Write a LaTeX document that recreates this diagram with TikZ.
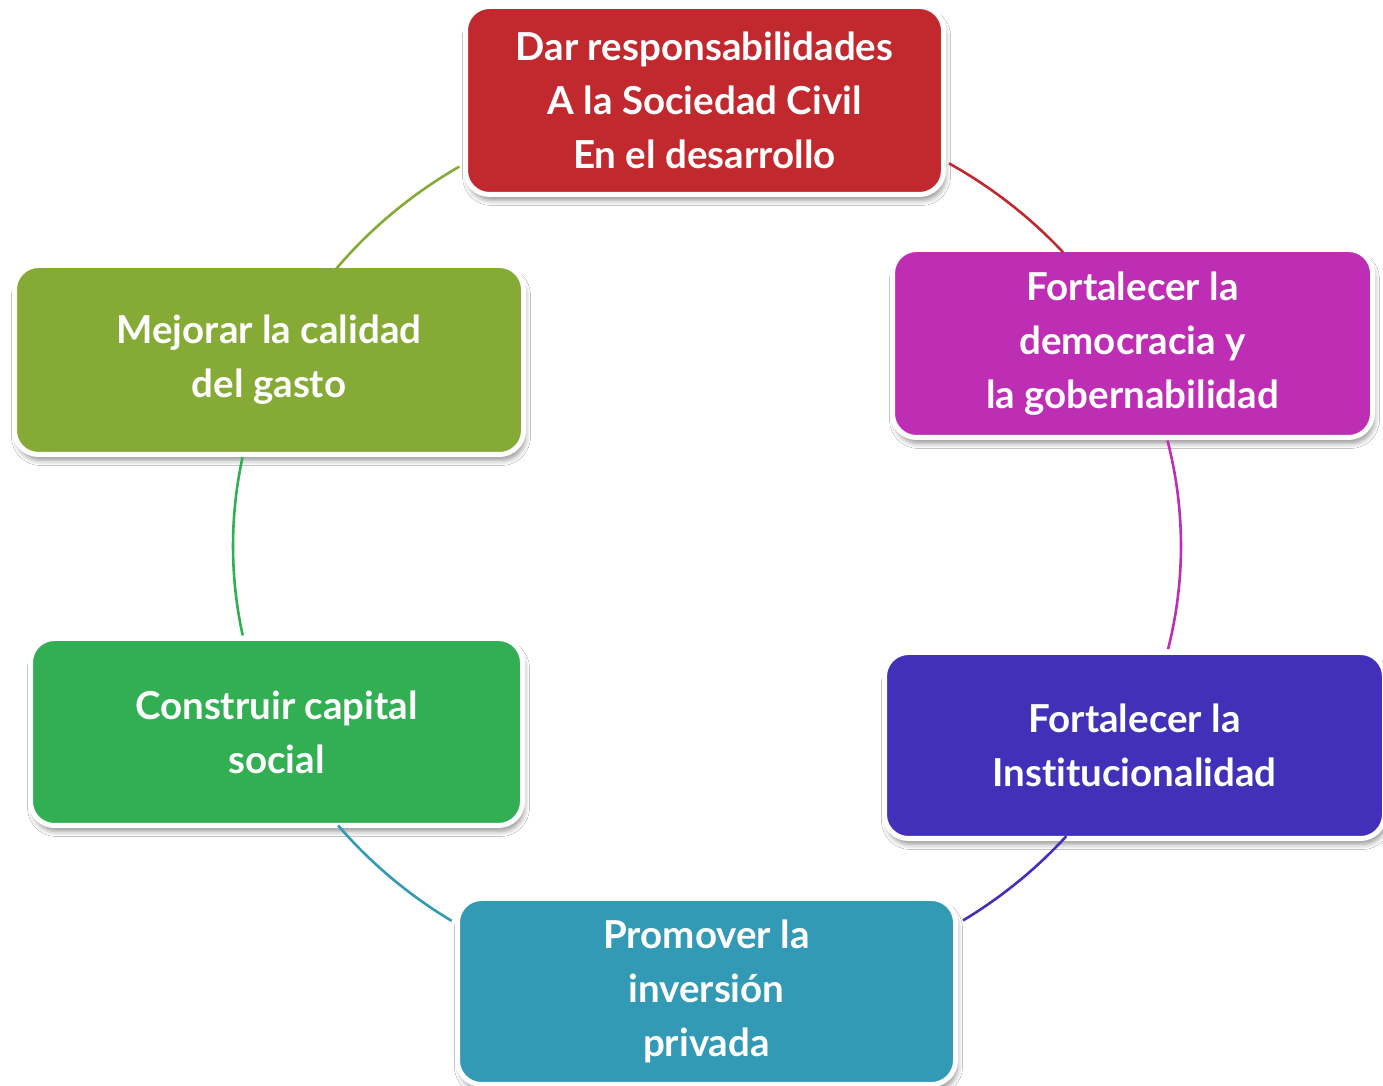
\documentclass[tikz,border=0pt]{standalone}
\usepackage{fontspec}
\setmainfont{Lato}[Ligatures={NoCommon}]
\usetikzlibrary{shadows.blur}
\definecolor{cRed}{HTML}{C1292E}
\definecolor{cMag}{HTML}{BE2EB4}
\definecolor{cInd}{HTML}{4230B8}
\definecolor{cTeal}{HTML}{329AB4}
\definecolor{cGreen}{HTML}{32AF52}
\definecolor{cOlive}{HTML}{86AA36}
\begin{document}
\begin{tikzpicture}[x=1pt,y=1pt,
  box/.style={rectangle, rounded corners=24pt, draw=white, line width=5pt,
    inner sep=0pt, align=center, text=white,
    font=\fontsize{38.5}{54}\selectfont\bfseries,
    blur shadow={shadow xshift=2pt, shadow yshift=-6pt, shadow blur radius=5pt, shadow opacity=40}},
  link/.style={line width=2.6pt},
  ex/.style 2 args={minimum width=#1pt, minimum height=#2pt}]
\useasboundingbox (0,0) rectangle (1383,1086);
\fill[white] (0,0) rectangle (1383,1086);

\node[box, fill=cRed, ex={478}{188}] (red) at (704.5,985.5)
  {Dar responsabilidades\\A la Sociedad Civil\\En el desarrollo};
\node[box, fill=cMag, ex={480}{188}] (mag) at (1132.5,742.5)
  {Fortalecer la\\democracia y\\la gobernabilidad};
\node[box, fill=cInd, ex={500}{186}] (ind) at (1134.5,340.5)
  {Fortalecer la\\Institucionalidad};
\node[box, fill=cTeal, ex={498}{186}] (teal) at (706.5,94.5)
  {Promover la\\inversión\\privada};
\node[box, fill=cGreen, ex={492}{187}] (green) at (276.5,354)
  {Construir capital\\social};
\node[box, fill=cOlive, ex={509}{189}] (olive) at (269,726)
  {Mejorar la calidad\\del gasto};

\coordinate (ctr) at (707,540);
\draw[link, cOlive] (ctr) ++(141.7:474 and 445) arc[start angle=141.7, end angle=121.5, x radius=474, y radius=445];
\draw[link, cRed] (ctr) ++(59.3:474 and 445) arc[start angle=59.3, end angle=41.3, x radius=474, y radius=445];
\draw[link, cMag] (ctr) ++(13.7:474 and 445) arc[start angle=13.7, end angle=-13.4, x radius=474, y radius=445];
\draw[link, cInd] (ctr) ++(-40.7:474 and 445) arc[start angle=-40.7, end angle=-57.3, x radius=474, y radius=445];
\draw[link, cTeal] (ctr) ++(-122.6:474 and 445) arc[start angle=-122.6, end angle=-141.1, x radius=474, y radius=445];
\draw[link, cGreen] (ctr) ++(191.6:474 and 445) arc[start angle=191.6, end angle=168.5, x radius=474, y radius=445];
\end{tikzpicture}
\end{document}
